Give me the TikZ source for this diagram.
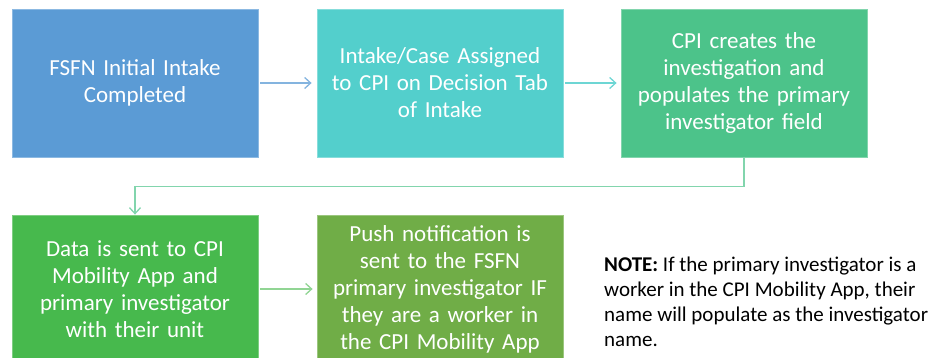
\documentclass[tikz,border=0pt]{standalone}
\usepackage{fontspec}
\setmainfont{Carlito}
\usepackage{tikz}
\usetikzlibrary{arrows.meta}

\definecolor{stepblue}{HTML}{5B9BD5}
\definecolor{stepteal}{HTML}{53CFCC}
\definecolor{stepmint}{HTML}{4CC38A}
\definecolor{stepgreen}{HTML}{47B94D}
\definecolor{stepolive}{HTML}{70AD47}

\begin{document}
\begin{tikzpicture}[x=1pt,y=-1pt,>={Straight Barb[length=6pt,width=11pt]},
  stepbox/.style={#1,fill=#1,draw=#1!70!white,line width=0.8pt,rectangle,minimum width=246pt,minimum height=148pt,text width=236pt,align=center,text=white,font=\fontsize{23}{27}\selectfont,inner sep=0pt},
  flow/.style={->,draw=#1,line width=1.3pt}]
\useasboundingbox (0,0) rectangle (943,358);
\node[stepbox=stepblue] (intake) at (135,83) {FSFN Initial Intake\\Completed};
\node[stepbox=stepteal] (assign) at (440,83) {Intake/Case Assigned\\to CPI on Decision Tab\\of Intake};
\node[stepbox=stepmint] (create) at (744,83) {CPI creates the\\investigation and\\populates the primary\\investigator field};
\node[stepbox=stepgreen] (sent) at (135,289) {Data is sent to CPI\\Mobility App and\\primary investigator\\with their unit};
\node[stepbox=stepolive] (push) at (440,289) {Push notification is\\sent to the FSFN\\primary investigator IF\\they are a worker in\\the CPI Mobility App};
\node[anchor=north west,align=left,inner sep=0pt,font=\fontsize{21}{25}\selectfont] (note) at (604,257)
  {\textbf{NOTE:} If the primary investigator is a\\worker in the CPI Mobility App, their\\name will populate as the investigator\\name.};
\draw[flow=stepblue!75!white] (intake.east) ++(2,0) -- ([xshift=-5pt]assign.west);
\draw[flow=stepteal!85!white] (assign.east) ++(2,0) -- ([xshift=-4pt]create.west);
\draw[flow=stepmint!70!white] (create.south) -- ++(0,29) -| (sent.north);
\draw[flow=stepgreen!60!white] (sent.east) ++(2,0) -- ([xshift=-4pt]push.west);
\end{tikzpicture}
\end{document}
